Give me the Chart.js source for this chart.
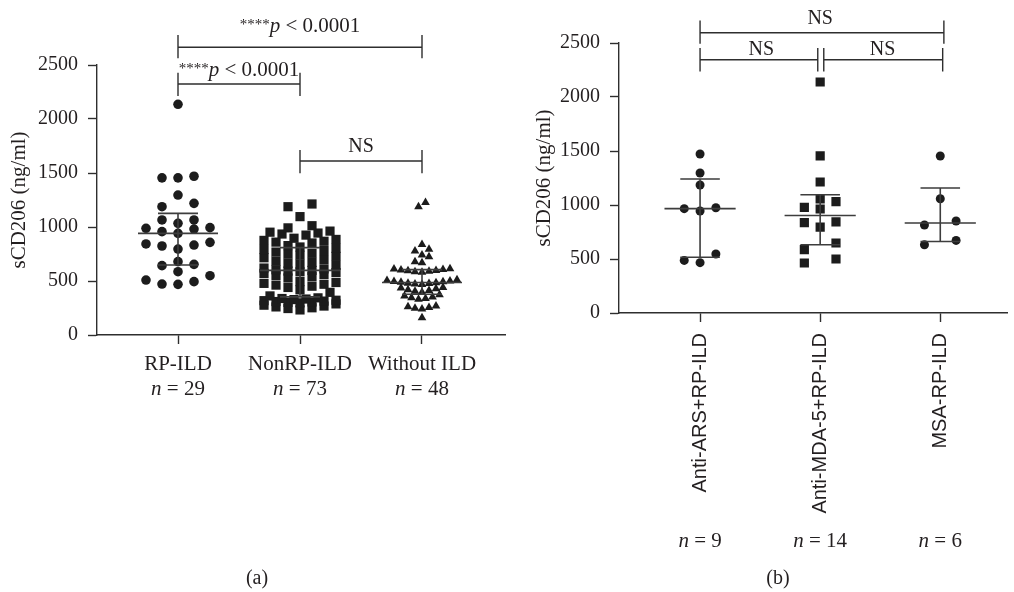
<!DOCTYPE html>
<html>
<head>
<meta charset="utf-8">
<script src="https://cdn.jsdelivr.net/npm/chart.js@4.4.0/dist/chart.umd.min.js"></script>
<style>
  html, body { margin: 0; padding: 0; background: #fff; }
  #wrap { position: relative; width: 1014px; height: 592px; }
  canvas { position: absolute; top: 0; }
</style>
</head>
<body>
<div id="wrap">
  <canvas id="chartA" width="512" height="592" style="left:0"></canvas>
  <canvas id="chartB" width="502" height="592" style="left:512px"></canvas>
</div>
<script>
// ---- panel (a) ----
var groupsA = ['RP-ILD', 'NonRP-ILD', 'Without ILD'];
var countsA = [29, 73, 48];
var rpIld = [2136, 1455, 1470, 1455, 1296, 1188, 1219, 1065, 1034, 1065,
    988, 981, 941, 957, 994, 843, 796, 824, 833, 858,
    654, 642, 679, 549, 586, 472, 494, 509, 469];
var nonRpIld = [1213, 1188, 1096, 992, 1012,
    925, 935, 944, 952, 962,
    852, 860, 868, 876, 885, 896,
    782, 792, 803, 815, 828,
    715, 728, 738, 748, 756, 768,
    645, 655, 664, 672, 684, 698,
    528, 540, 552, 561, 570, 578, 585, 592, 598, 604, 612, 620,
    440, 452, 462, 470, 478, 486, 495,
    362, 395, 418,
    298, 302, 306, 310, 314, 318, 322, 328, 333, 338, 344,
    232, 245, 252, 260, 268, 276, 288];
var withoutIld = [1188, 1228, 838, 793, 778, 741, 725, 679, 670,
    582, 586, 590, 594, 598, 602, 606, 610, 614,
    468, 472, 476, 480, 484, 488, 492, 496, 500, 505, 512,
    395, 405, 412, 420, 428, 435, 440,
    330, 338, 345, 352, 362, 372,
    240, 248, 255, 262, 268, 160];

// ---- panel (b) ----
var groupsB = ['Anti-ARS+RP-ILD', 'Anti-MDA-5+RP-ILD', 'MSA-RP-ILD'];
var countsB = [9, 14, 6];
var antiArs = [1472, 1296, 1185, 975, 966, 944, 546, 487, 466];
var antiMda5 = [2139, 1454, 1213, 1056, 1031, 963, 978, 843, 836, 796, 648, 586, 500, 463];
var msa = [1454, 1058, 852, 815, 672, 632];

var yTicks = [0, 500, 1000, 1500, 2000, 2500];

Chart.defaults.font.family = "'Liberation Serif', 'DejaVu Serif', serif";
Chart.defaults.color = '#231f20';

var ink = '#1c1c1c';
var axisColor = '#2e2e2e';
var SERIF = "'Liberation Serif', serif";
var unitsPerPx = 2500 / 270; // y value units per pixel

// dot-plot layout: values close together share a row, spread out from the centre
function swarm(values, group, laneStep, rowPx, maxRow, pairSpread) {
    var sorted = values.slice().sort(function (a, b) { return a - b; });
    var rows = [], row = null;
    sorted.forEach(function (v) {
        if (!row || v - row[0] >= rowPx * unitsPerPx || row.length >= maxRow) {
            row = [];
            rows.push(row);
        }
        row.push(v);
    });
    var pts = [];
    rows.forEach(function (r) {
        var k = r.length;
        var offs = [];
        for (var j = 0; j < k; j++) offs.push((j - (k - 1) / 2) * (k === 2 ? pairSpread : 1));
        // centre slots first, lowest values nearest the centre
        offs.sort(function (a, b) { return Math.abs(a) - Math.abs(b) || a - b; });
        r.forEach(function (v, i) { pts.push({ x: group + offs[i] * laneStep, y: v }); });
    });
    return pts;
}

function quantile(values, p) {
    var s = values.slice().sort(function (a, b) { return a - b; });
    var pos = (s.length + 1) * p;
    var lo = Math.floor(pos), frac = pos - lo;
    if (lo < 1) return s[0];
    if (lo >= s.length) return s[s.length - 1];
    return s[lo - 1] + frac * (s[lo] - s[lo - 1]);
}

function dotSet(points, style, radius) {
    return {
        data: points,
        pointStyle: style,
        pointRadius: radius,
        pointBackgroundColor: ink,
        pointBorderColor: ink,
        pointBorderWidth: 0,
        showLine: false
    };
}

function drawRich(ctx, parts, cx, baseline) {
    var total = 0;
    parts.forEach(function (p) { ctx.font = p.font; p.w = ctx.measureText(p.text).width; total += p.w; });
    var x = cx - total / 2;
    ctx.textAlign = 'left';
    ctx.textBaseline = 'alphabetic';
    parts.forEach(function (p) { ctx.font = p.font; ctx.fillText(p.text, x, baseline + (p.dy || 0)); x += p.w; });
}

function pLabel() {
    return [
        { text: '****', font: '15px ' + SERIF, dy: -3 },
        { text: 'p', font: 'italic 21px ' + SERIF },
        { text: ' < 0.0001', font: '21px ' + SERIF }
    ];
}
function nsLabel() { return [{ text: 'NS', font: '20px ' + SERIF }]; }
function nLabel(n) {
    return [{ text: 'n', font: 'italic 21px ' + SERIF }, { text: ' = ' + n, font: '21px ' + SERIF }];
}

function overlay(o) {
    return {
        id: 'overlay',
        afterDatasetsDraw: function (chart) {
            var ctx = chart.ctx, xs = chart.scales.x, ys = chart.scales.y;
            ctx.save();
            ctx.strokeStyle = '#3d3d3d';
            ctx.lineWidth = 1.6;
            o.series.forEach(function (vals, i) {
                var c = i + 1;
                var med = ys.getPixelForValue(quantile(vals, 0.5));
                var q1 = ys.getPixelForValue(quantile(vals, 0.25));
                var q3 = ys.getPixelForValue(quantile(vals, 0.75));
                var cx = xs.getPixelForValue(c);
                ctx.beginPath();
                ctx.moveTo(xs.getPixelForValue(c - o.medHalf), med);
                ctx.lineTo(xs.getPixelForValue(c + o.medHalf), med);
                ctx.moveTo(cx, q1); ctx.lineTo(cx, q3);
                ctx.moveTo(xs.getPixelForValue(c - o.capHalf), q1);
                ctx.lineTo(xs.getPixelForValue(c + o.capHalf), q1);
                ctx.moveTo(xs.getPixelForValue(c - o.capHalf), q3);
                ctx.lineTo(xs.getPixelForValue(c + o.capHalf), q3);
                ctx.stroke();
            });
            ctx.restore();
        },
        afterDraw: function (chart) {
            var ctx = chart.ctx, xs = chart.scales.x, ys = chart.scales.y;
            ctx.save();
            ctx.strokeStyle = axisColor;
            ctx.lineWidth = 1.4;
            ctx.fillStyle = '#231f20';
            o.brackets.forEach(function (b) {
                var x1 = xs.getPixelForValue(b.from), x2 = xs.getPixelForValue(b.to);
                var y = ys.getPixelForValue(b.y);
                var t1 = ys.getPixelForValue(b.tickTop), t2 = ys.getPixelForValue(b.tickBottom);
                ctx.beginPath();
                ctx.moveTo(x1, y); ctx.lineTo(x2, y);
                ctx.moveTo(x1, t1); ctx.lineTo(x1, t2);
                ctx.moveTo(x2, t1); ctx.lineTo(x2, t2);
                ctx.stroke();
                drawRich(ctx, b.label(), xs.getPixelForValue(b.labelX), ys.getPixelForValue(b.labelY));
            });
            o.counts.forEach(function (n, i) {
                drawRich(ctx, nLabel(n), xs.getPixelForValue(i + 1), chart.chartArea.bottom + o.nOffset);
            });
            drawRich(ctx, [{ text: o.panel, font: '20px ' + SERIF }], o.panelX, 584);
            ctx.restore();
        }
    };
}

function buildScales(o) {
    var grid = { display: true, drawOnChartArea: false, drawTicks: true, tickLength: 9, tickWidth: 1.4, tickColor: axisColor };
    var border = { display: true, color: axisColor, width: 1.4 };
    return {
        x: {
            type: 'linear', min: o.xMin, max: o.xMax,
            afterBuildTicks: function (s) { s.ticks = [1, 2, 3].map(function (v) { return { value: v }; }); },
            afterFit: function (s) { s.height = o.xHeight; },
            grid: grid, border: border,
            ticks: {
                padding: o.xPad, font: o.xFont, color: '#231f20', autoSkip: false,
                minRotation: o.rot, maxRotation: o.rot,
                callback: function (v) { return o.names[Math.round(v) - 1]; }
            }
        },
        y: {
            min: 0, max: 2500,
            afterBuildTicks: function (s) { s.ticks = yTicks.map(function (v) { return { value: v }; }); },
            afterFit: function (s) { s.width = o.yWidth; },
            grid: grid, border: border,
            ticks: { padding: 10, font: { size: 20 }, color: '#231f20', callback: function (v) { return String(v); } },
            title: { display: true, text: 'sCD206 (ng/ml)', font: { size: 21 }, color: '#231f20', padding: { top: o.titlePad, bottom: 0 } }
        }
    };
}

var chartA = new Chart(document.getElementById('chartA'), {
    type: 'scatter',
    data: {
        datasets: [
            dotSet(swarm(rpIld, 1, 16 / 122, 10, 5, 2), 'circle', 4.8),
            dotSet(swarm(nonRpIld, 2, 12 / 122, 9, 7, 2), 'rect', 6.5),
            dotSet(swarm(withoutIld, 3, 7 / 122, 7, 12, 1), 'triangle', 5)
        ]
    },
    options: {
        responsive: false, animation: false, events: [],
        layout: { padding: { left: 0, top: 65, right: 7, bottom: 0 } },
        plugins: { legend: { display: false }, tooltip: { enabled: false } },
        scales: buildScales({
            xMin: 1 - 81 / 122, xMax: 3 + 83 / 122, xHeight: 257, xPad: 8,
            xFont: { size: 21 }, rot: 0, names: groupsA, yWidth: 97, titlePad: 7
        })
    },
    plugins: [overlay({
        series: [rpIld, nonRpIld, withoutIld], medHalf: 40 / 122, capHalf: 20 / 122,
        counts: countsA, nOffset: 60, panel: '(a)', panelX: 257,
        brackets: [
            { from: 1, to: 3, y: 2664, tickTop: 2778, tickBottom: 2562, label: pLabel, labelX: 2, labelY: 2805 },
            { from: 1, to: 2, y: 2324, tickTop: 2429, tickBottom: 2213, label: pLabel, labelX: 1.5, labelY: 2398 },
            { from: 2, to: 3, y: 1611, tickTop: 1713, tickBottom: 1497, label: nsLabel, labelX: 2.5, labelY: 1694 }
        ]
    })]
});

var chartB = new Chart(document.getElementById('chartB'), {
    type: 'scatter',
    data: {
        datasets: [
            dotSet(swarm(antiArs, 1, 16 / 121.5, 10, 3, 2), 'circle', 4.5),
            dotSet(swarm(antiMda5, 2, 16 / 121.5, 10, 3, 2), 'rect', 6.5),
            dotSet(swarm(msa, 3, 16 / 121.5, 10, 3, 2), 'circle', 4.5)
        ]
    },
    options: {
        responsive: false, animation: false, events: [],
        layout: { padding: { left: 0, top: 43, right: 2, bottom: 0 } },
        plugins: { legend: { display: false }, tooltip: { enabled: false } },
        scales: buildScales({
            xMin: 1 - 82 / 121.5, xMax: 3 + 68 / 121.5, xHeight: 279, xPad: 11,
            xFont: { size: 20, family: "'Liberation Sans', sans-serif" }, rot: 90, names: groupsB,
            yWidth: 107, titlePad: 20
        })
    },
    plugins: [overlay({
        series: [antiArs, antiMda5, msa], medHalf: 36 / 121.5, capHalf: 20 / 121.5,
        counts: countsB, nOffset: 234, panel: '(b)', panelX: 266,
        brackets: [
            { from: 1, to: 3.03, y: 2595, tickTop: 2709, tickBottom: 2494, label: nsLabel, labelX: 2, labelY: 2679 },
            { from: 1, to: 1.98, y: 2345, tickTop: 2454, tickBottom: 2237, label: nsLabel, labelX: 1.51, labelY: 2392 },
            { from: 2.03, to: 3.02, y: 2345, tickTop: 2454, tickBottom: 2237, label: nsLabel, labelX: 2.52, labelY: 2392 }
        ]
    })]
});
</script>
</body>
</html>
